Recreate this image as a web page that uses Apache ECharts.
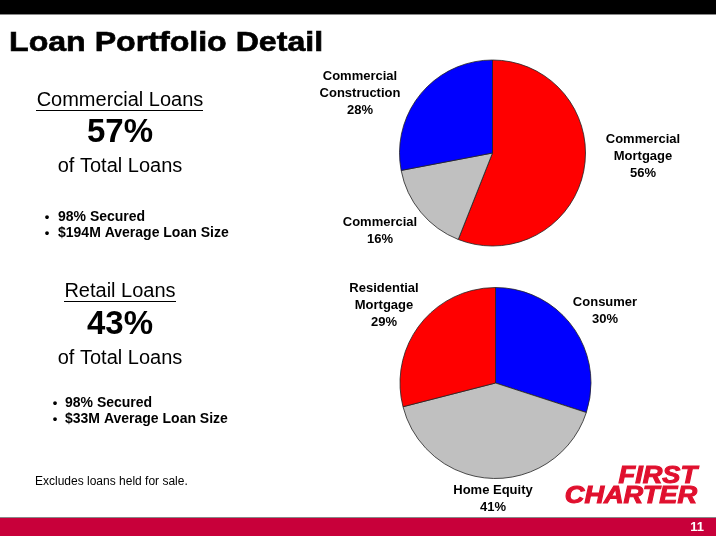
<!DOCTYPE html>
<html><head><meta charset="utf-8">
<script src="https://cdn.jsdelivr.net/npm/echarts@6/dist/echarts.min.js"></script>
<style>html,body{margin:0;padding:0;background:#fff}#c{width:716px;height:536px}</style>
</head><body><div id="c"></div>
<script>
// Data
const commercialNames = ['Commercial\nMortgage', 'Commercial', 'Commercial\nConstruction'];
const commercialValues = [56, 16, 28];
const retailNames = ['Consumer', 'Home Equity', 'Residential\nMortgage'];
const retailValues = [30, 41, 29];

// Styles / layout
const sliceColorsTop = ['#FF0000', '#C0C0C0', '#0000FF'];
const sliceColorsBottom = ['#0000FF', '#C0C0C0', '#FF0000'];
const labelPosTop = [[643, 156], [380, 231], [360, 93]];
const labelPosBottom = [[605, 311], [493, 499], [384, 305]];
const FONT = 'Arial, "Liberation Sans", Helvetica, sans-serif';

function mkData(names, vals, colors) {
  return names.map((n, i) => ({ name: n, value: vals[i], itemStyle: { color: colors[i] } }));
}
function mkPie(names, vals, colors, center, r, pos) {
  return {
    type: 'pie', center: center, radius: r, startAngle: 90, clockwise: true,
    animation: false, silent: true,
    itemStyle: { borderColor: '#222', borderWidth: 0.8 },
    label: { show: true, formatter: '{b}\n{c}%', fontFamily: FONT, fontWeight: 'bold', fontSize: 13, color: '#000', lineHeight: 17, align: 'center', overflow: 'none' },
    labelLine: { show: false },
    labelLayout: function (p) { const q = pos[p.dataIndex]; return { x: q[0], y: q[1], align: 'center', verticalAlign: 'middle', width: 200 }; },
    data: mkData(names, vals, colors)
  };
}

const txt = (x, y, s, size, weight, extra, props) => Object.assign({
  type: 'text', x: x, y: y,
  style: Object.assign({ text: s, font: (weight || 'normal') + ' ' + size + 'px ' + FONT, fill: '#000', textVerticalAlign: 'middle' }, extra || {})
}, props || {});

const chart = echarts.init(document.getElementById('c'), null, { renderer: 'canvas' });
chart.setOption({
  backgroundColor: '#fff',
  animation: false,
  series: [
    mkPie(commercialNames, commercialValues, sliceColorsTop, [492.5, 153], 93, labelPosTop),
    mkPie(retailNames, retailValues, sliceColorsBottom, [495.5, 383], 95.5, labelPosBottom)
  ],
  graphic: [
    { type: 'rect', shape: { x: 0, y: 0, width: 716, height: 14 }, style: { fill: '#000' } },
    { type: 'rect', shape: { x: 0, y: 14, width: 716, height: 1 }, style: { fill: '#888' } },
    { type: 'rect', shape: { x: 0, y: 517, width: 716, height: 1 }, style: { fill: '#888' } },
    { type: 'rect', shape: { x: 0, y: 518, width: 716, height: 18 }, style: { fill: '#C8003A' } },
    txt(697, 527, '11', 13, 'bold', { fill: '#fff', textAlign: 'center' }),
    txt(9, 44, 'Loan Portfolio Detail', 27, 'bold', { stroke: '#000', lineWidth: 0.6 }, { scaleX: 1.19 }),

    txt(120, 100, 'Commercial Loans', 20, 'normal', { textAlign: 'center' }),
    { type: 'rect', shape: { x: 36, y: 110, width: 167, height: 1 }, style: { fill: '#000' } },
    txt(120, 133, '57%', 33, 'bold', { textAlign: 'center' }),
    txt(120, 166, 'of Total Loans', 20, 'normal', { textAlign: 'center' }),
    txt(47, 217, '•', 13, 'bold', { textAlign: 'center' }),
    txt(58, 217, '98% Secured', 14, 'bold'),
    txt(47, 233, '•', 13, 'bold', { textAlign: 'center' }),
    txt(58, 233, '$194M Average Loan Size', 14, 'bold'),

    txt(120, 291, 'Retail Loans', 20, 'normal', { textAlign: 'center' }),
    { type: 'rect', shape: { x: 64, y: 301, width: 112, height: 1 }, style: { fill: '#000' } },
    txt(120, 325, '43%', 33, 'bold', { textAlign: 'center' }),
    txt(120, 358, 'of Total Loans', 20, 'normal', { textAlign: 'center' }),
    txt(55, 403, '•', 13, 'bold', { textAlign: 'center' }),
    txt(65, 403, '98% Secured', 14, 'bold'),
    txt(55, 419, '•', 13, 'bold', { textAlign: 'center' }),
    txt(65, 419, '$33M Average Loan Size', 14, 'bold'),

    txt(35, 482, 'Excludes loans held for sale.', 12, 'normal'),

    txt(697, 477, 'FIRST', 23, 'italic bold', { fill: '#E0102E', textAlign: 'right', stroke: '#E0102E', lineWidth: 1 }, { scaleX: 1.18 }),
    txt(697, 497, 'CHARTER', 23, 'italic bold', { fill: '#E0102E', textAlign: 'right', stroke: '#E0102E', lineWidth: 1 }, { scaleX: 1.18 })
  ]
});
</script></body></html>
